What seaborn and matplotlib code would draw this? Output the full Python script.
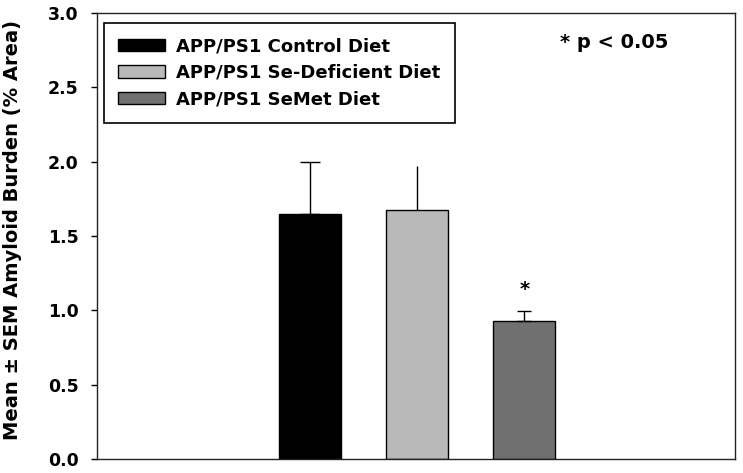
import matplotlib
matplotlib.use("Agg")
import matplotlib.pyplot as plt
import seaborn as sns
import pandas as pd

# ---- data ----
groups = ["APP/PS1 Control Diet", "APP/PS1 Se-Deficient Diet", "APP/PS1 SeMet Diet"]
means = [1.645, 1.672, 0.930]
sems = [0.352, 0.296, 0.063]
colors = ["#000000", "#b9b9b9", "#707070"]
cap_sizes = [7, 0, 5]
y_ticks = [0.0, 0.5, 1.0, 1.5, 2.0, 2.5, 3.0]
y_tick_labels = ["0.0", "0.5", "1.0", "1.5", "2.0", "2.5", "3.0"]
y_label = "Mean ± SEM Amyloid Burden (% Area)"
note = "* p < 0.05"
sig_marker = "*"
sig_group = 2
sig_y = 1.10

sns.set_theme(style="white")
plt.rcParams['font.family'] = ['DejaVu Sans']
plt.rcParams['font.weight'] = 'bold'
plt.rcParams['axes.labelcolor'] = 'black'
plt.rcParams['text.color'] = 'black'

df = pd.DataFrame({"group": groups, "burden": means})

fig = plt.figure(figsize=(7.43, 4.73), dpi=100)
ax = fig.add_axes([97 / 743, 14 / 473, 638 / 743, 446 / 473])

sns.barplot(data=df, x="group", y="burden", hue="group", order=groups,
            hue_order=groups, palette=colors, dodge=False, width=0.58,
            edgecolor="black", linewidth=1.0, errorbar=None, legend=True,
            saturation=1, ax=ax)

for i, (m, s) in enumerate(zip(means, sems)):
    ax.errorbar([i], [m], yerr=[[0], [s]], fmt="none", ecolor="black",
                elinewidth=1.0, capsize=cap_sizes[i], capthick=1.0, zorder=1)

ax.text(sig_group, sig_y, sig_marker, ha="center", va="baseline",
        fontsize=14, fontweight="bold", color="black")
ax.text(0.726, 0.9215, note, transform=ax.transAxes, ha="left",
        va="baseline", fontsize=14, fontweight="bold", color="black")

ax.set_xlim(-1.984, 3.965)
ax.set_ylim(0, 3.0)
ax.set_yticks(y_ticks)
ax.set_yticklabels(y_tick_labels, fontsize=12.5, fontweight="bold", color="black")
ax.set_xticks([])
ax.set_xlabel("")
ax.set_ylabel(y_label, fontsize=14, fontweight="bold", color="black")
ax.yaxis.set_label_coords(-0.118, 0.513)
ax.tick_params(axis="y", left=True, direction="out", length=4.3, width=1,
               pad=9, colors="black")
for sp in ax.spines.values():
    sp.set_visible(True)
    sp.set_color("#222222")
    sp.set_linewidth(1.0)

leg = ax.legend(loc="upper left", bbox_to_anchor=(0.011, 0.978),
                borderaxespad=0, fontsize=13, handlelength=2.6,
                handleheight=0.67, handletextpad=0.6, labelspacing=0.48,
                borderpad=0.8, fancybox=False, framealpha=1,
                edgecolor="black", title=None)
leg.get_frame().set_linewidth(1.2)
for t in leg.get_texts():
    t.set_fontweight("bold")
    t.set_color("black")

fig.savefig("out.png", dpi=100)
